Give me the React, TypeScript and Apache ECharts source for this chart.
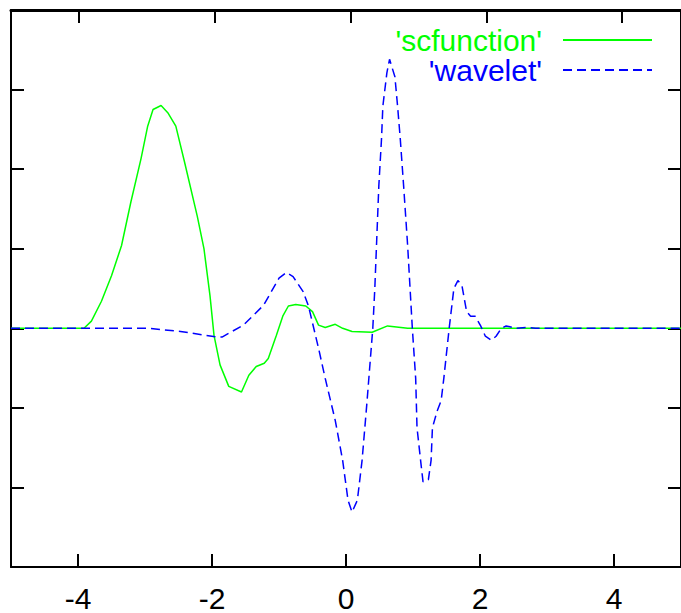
import React, { useEffect, useRef } from "react";
import * as echarts from "echarts";

const xTicks = [-4, -2, 0, 2, 4];
const seriesNames = ["'scfunction'", "'wavelet'"];

const scX = [-5, -3.91, -3.8, -3.65, -3.5, -3.35, -3.21, -3.06, -2.96, -2.88, -2.76, -2.66, -2.54, -2.41, -2.22, -2.12, -2.03, -1.97, -1.88, -1.75, -1.56, -1.45, -1.34, -1.22, -1.16, -1.04, -0.94, -0.86, -0.75, -0.6, -0.5, -0.41, -0.31, -0.16, -0.05, 0.09, 0.39, 0.62, 0.92, 5];
const scY = [0, 0, 0.09, 0.34, 0.66, 1.04, 1.59, 2.13, 2.54, 2.75, 2.8, 2.71, 2.54, 2.09, 1.41, 1.0, 0.41, -0.09, -0.46, -0.73, -0.8, -0.59, -0.48, -0.44, -0.38, -0.09, 0.16, 0.28, 0.3, 0.28, 0.21, 0.04, 0.01, 0.05, 0, -0.04, -0.05, 0.03, 0, 0];

const wvX = [-5, -2.96, -2.47, -1.92, -1.85, -1.53, -1.23, -1.0, -0.89, -0.79, -0.64, -0.56, -0.41, -0.31, -0.16, -0.05, 0.03, 0.09, 0.17, 0.24, 0.31, 0.4, 0.43, 0.49, 0.53, 0.55, 0.61, 0.65, 0.73, 0.77, 0.81, 0.86, 0.92, 0.99, 1.04, 1.06, 1.12, 1.15, 1.23, 1.27, 1.29, 1.36, 1.42, 1.46, 1.54, 1.61, 1.67, 1.73, 1.8, 1.86, 1.93, 2.01, 2.08, 2.17, 2.24, 2.32, 2.39, 2.54, 2.69, 2.83, 5];
const wvY = [0, 0, -0.04, -0.11, -0.11, 0.04, 0.29, 0.63, 0.7, 0.65, 0.46, 0.28, -0.25, -0.63, -1.16, -1.66, -2.16, -2.31, -2.16, -1.66, -0.96, 0, 0.5, 1.79, 2.38, 2.79, 3.21, 3.38, 3.16, 2.79, 2.38, 1.79, 1.04, 0, -0.63, -1.25, -1.71, -1.93, -1.9, -1.66, -1.25, -1.04, -0.91, -0.63, 0, 0.5, 0.6, 0.54, 0.21, 0.15, 0.15, 0.03, -0.1, -0.15, -0.1, 0, 0.03, 0, 0.01, 0, 0];

const GREEN = "#00ff00";
const BLUE = "#0000ff";
const FONT = "'Liberation Sans', Arial, Helvetica, sans-serif";

const PLOT_LEFT = 11;
const PLOT_WIDTH = 679;
const X_MIN = -5;
const X_MAX = 5;

export default function App() {
  const ref = useRef<HTMLDivElement>(null);
  useEffect(() => {
    if (!ref.current) return;
    const chart = echarts.init(ref.current, undefined, { renderer: "svg" });
    const axisLine = { show: true, onZero: false, lineStyle: { color: "#000", width: 2 } };
    const tick = { show: true, inside: true, length: 13, lineStyle: { color: "#000", width: 2 } };
    const unit = PLOT_WIDTH / (X_MAX - X_MIN);
    const tMin = xTicks[0];
    const tMax = xTicks[xTicks.length - 1];
    const yBase = {
      type: "value" as const,
      min: -3,
      max: 4,
      interval: 1,
      axisLine,
      axisTick: tick,
      axisLabel: { show: false },
      splitLine: { show: false },
    };
    chart.setOption({
      animation: false,
      backgroundColor: "#fff",
      grid: [
        { left: PLOT_LEFT, top: 10, width: PLOT_WIDTH, height: 560 },
        { left: PLOT_LEFT, top: 0, width: PLOT_WIDTH, height: 10 },
        { left: PLOT_LEFT + (tMin - X_MIN) * unit, top: 0, width: (tMax - tMin) * unit, height: 10 },
      ],
      legend: {
        orient: "vertical",
        align: "right",
        right: 28,
        top: 25,
        padding: 0,
        itemGap: 0,
        itemWidth: 89,
        itemHeight: 14,
        selectedMode: false,
        itemStyle: { opacity: 0, borderWidth: 0 },
        textStyle: { fontSize: 30, fontFamily: FONT, padding: [0, 16, 0, 0] },
        data: [
          { name: seriesNames[0], textStyle: { color: GREEN } },
          { name: seriesNames[1], textStyle: { color: BLUE } },
        ],
      },
      xAxis: [
        {
          type: "value",
          gridIndex: 0,
          min: X_MIN,
          max: X_MAX,
          position: "bottom",
          axisLine,
          splitLine: { show: false },
          axisTick: { ...tick, customValues: xTicks },
          axisLabel: {
            show: true,
            customValues: xTicks,
            margin: 16,
            fontSize: 30,
            color: "#000",
            fontFamily: FONT,
          },
        },
        {
          type: "value",
          gridIndex: 1,
          min: X_MIN,
          max: X_MAX,
          position: "bottom",
          axisLine: { show: true, onZero: false, lineStyle: { color: "#000", width: 3 } },
          splitLine: { show: false },
          axisTick: { show: false },
          axisLabel: { show: false },
        },
        {
          type: "value",
          gridIndex: 2,
          min: tMin,
          max: tMax,
          interval: 2,
          position: "bottom",
          axisLine: { show: false, onZero: false },
          splitLine: { show: false },
          axisTick: { show: true, inside: false, length: 13, lineStyle: { color: "#000", width: 2 } },
          axisLabel: { show: false },
        },
      ],
      yAxis: [
        { ...yBase, gridIndex: 0, position: "left" },
        { ...yBase, gridIndex: 0, position: "right" },
        { type: "value", gridIndex: 1, min: 0, max: 1, show: false },
        { type: "value", gridIndex: 2, min: 0, max: 1, show: false },
      ],
      series: [
        {
          name: seriesNames[0],
          type: "line",
          symbol: "none",
          color: GREEN,
          lineStyle: { color: GREEN, width: 1.5 },
          data: scX.map((x, i) => [x, scY[i]]),
        },
        {
          name: seriesNames[1],
          type: "line",
          symbol: "none",
          color: BLUE,
          lineStyle: { color: BLUE, width: 1.5, type: [9, 5] },
          data: wvX.map((x, i) => [x, wvY[i]]),
        },
      ],
    });
    return () => chart.dispose();
  }, []);
  return (
    <div
      ref={ref}
      style={{ position: "fixed", left: 0, top: 0, width: 681, height: 613, background: "#fff" }}
    />
  );
}
